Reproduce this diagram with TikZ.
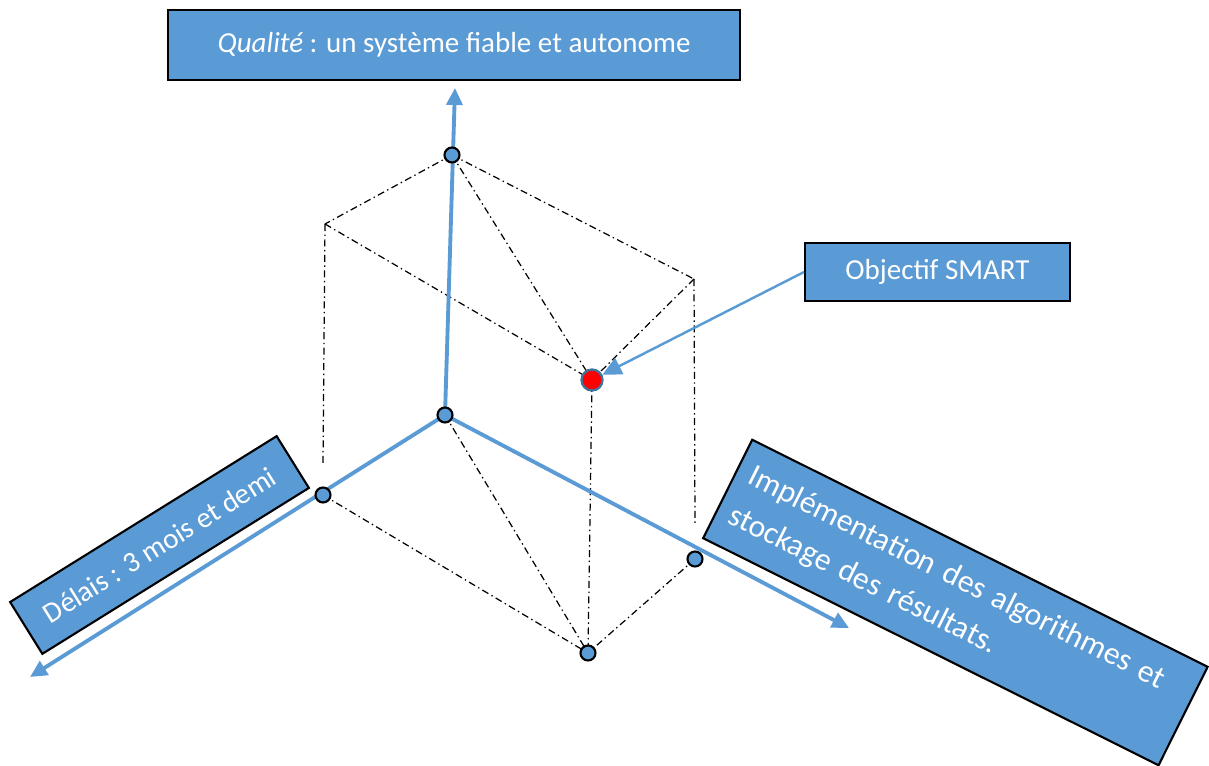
\documentclass[tikz,border=0pt]{standalone}
\usepackage{fontspec}
\setmainfont{Carlito}
\usetikzlibrary{arrows.meta}
\definecolor{boxblue}{HTML}{5B9BD5}
\definecolor{rimblue}{HTML}{41719C}
\pgfdeclarelayer{bg}
\pgfsetlayers{bg,main}
\begin{document}
\begin{tikzpicture}[x=0.02cm,y=-0.02cm,
  labelbox/.style={draw=black,line width=1.2pt,fill=boxblue,text=white,inner sep=0pt,
    font=\fontsize{16.5}{19.8}\selectfont},
  axisline/.style={draw=boxblue,line width=2.2pt,-{Triangle[length=0.34cm,width=0.32cm]}},
  guide/.style={draw=black,line width=0.7pt,dash pattern=on 4pt off 2pt on 0.8pt off 2pt},
  pointer/.style={draw=boxblue,line width=1.4pt,-{Triangle[length=0.38cm,width=0.36cm]}},
  vertex/.style={circle,draw=black,line width=1.2pt,fill=boxblue,minimum size=0.3cm,inner sep=0pt},
  target/.style={circle,draw=rimblue,line width=1.3pt,fill=red,minimum size=0.42cm,inner sep=0pt}]
\useasboundingbox (0,0) rectangle (1209,766);

% label boxes
\node[labelbox,minimum width=11.44cm,minimum height=1.4cm] (quality) at (454,45)
  {\itshape Qualité\upshape{} : un système fiable et autonome};
\node[labelbox,minimum width=5.3cm,minimum height=1.16cm] (smart) at (937.5,272)
  {Objectif SMART};
\node[labelbox,minimum width=6.28cm,minimum height=1.22cm,rotate=31.9] (delay) at (159.5,545)
  {Délais : 3 mois et demi};
\node[labelbox,minimum height=2.2cm,rotate=-26.5,inner xsep=0.28cm,text width=9.62cm,align=left,
  font=\fontsize{18}{25}\selectfont] (impl) at (955.4,602.5)
  {Implémentation des algorithmes et\\stockage des résultats.};

% points of the box
\node[vertex] (O) at (445,415) {};
\node[vertex] (Q) at (452,155) {};
\node[vertex] (D) at (323,495) {};
\node[vertex] (I) at (695,559) {};
\node[vertex] (B) at (588,653) {};
\node[target] (S) at (592,380) {};

% free corners and axis ends
\coordinate (C1) at (325,224);
\coordinate (C2) at (694,279);
\coordinate (C1low) at (323,463);
\coordinate (C2low) at (695,526);
\coordinate (tipQ) at (455,88);
\coordinate (tipD) at (30,677);
\coordinate (tipI) at (849,628);

\begin{pgfonlayer}{bg}
  % dash-dot edges of the box
  \draw[guide] (Q.center) -- (C1);
  \draw[guide] (Q.center) -- (C2);
  \draw[guide] (Q.center) -- (S.center);
  \draw[guide] (C1) -- (S.center);
  \draw[guide] (C2) -- (S.center);
  \draw[guide] (C1) -- (C1low);
  \draw[guide] (C2) -- (C2low);
  \draw[guide] (S.center) -- (B.center);
  \draw[guide] (D.center) -- (B.center);
  \draw[guide] (I.center) -- (B.center);
  \draw[guide] (O.center) -- (B.center);
  % the three axes
  \draw[axisline] (O.center) -- (tipQ);
  \draw[axisline] (O.center) -- (tipD);
  \draw[axisline] (O.center) -- (tipI);
\end{pgfonlayer}

\draw[pointer] (smart.west) -- (S);
\end{tikzpicture}
\end{document}
